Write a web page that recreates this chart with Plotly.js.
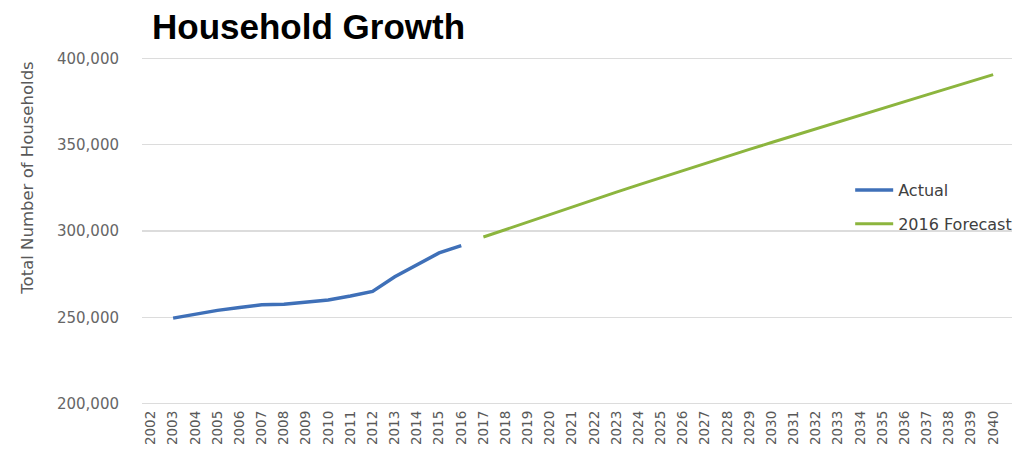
<!DOCTYPE html>
<html>
<head>
<meta charset="utf-8">
<script src="https://cdn.plot.ly/plotly-3.0.1.min.js"></script>
<style>
  html, body { margin: 0; padding: 0; background: #ffffff; }
  #chart { width: 1029px; height: 451px; }
</style>
</head>
<body>
<div id="chart"></div>
<script>
// Tick labels (all years on the category axis)
var yearLabels = [2002, 2003, 2004, 2005, 2006, 2007, 2008, 2009, 2010, 2011,
                  2012, 2013, 2014, 2015, 2016, 2017, 2018, 2019, 2020, 2021,
                  2022, 2023, 2024, 2025, 2026, 2027, 2028, 2029, 2030, 2031,
                  2032, 2033, 2034, 2035, 2036, 2037, 2038, 2039, 2040];

// Actual households
var actualYears = [2003, 2004, 2005, 2006, 2007, 2008, 2009, 2010, 2011, 2012, 2013, 2014, 2015, 2016];
var actualValues = [249500, 251800, 254000, 255600, 257300, 257500, 258500, 260000, 262300, 265000, 273500, 280500, 287300, 291500];

// 2016 Forecast
var forecastYears = [2017, 2018, 2019, 2020, 2021, 2022, 2023, 2024, 2025, 2026, 2027, 2028,
                     2029, 2030, 2031, 2032, 2033, 2034, 2035, 2036, 2037, 2038, 2039, 2040];
var forecastValues = [296500, 300900, 305300, 309700, 314000, 318300, 322500, 326700, 330900, 335000, 339100, 343200,
                      347300, 351300, 355300, 359300, 363300, 367200, 371100, 375000, 378900, 382800, 386700, 390600];

var yTicks = [200000, 250000, 300000, 350000, 400000];
var yTickText = ['200,000', '250,000', '300,000', '350,000', '400,000'];

var seriesNames = ['Actual', '2016 Forecast'];
var titleText = 'Household Growth';
var yTitleText = 'Total Number of Households';

var traces = [
  {
    x: actualYears, y: actualValues, name: seriesNames[0], type: 'scatter', mode: 'lines',
    line: { color: '#3f70b8', width: 3.5 }, legendgroup: 'a'
  },
  {
    x: forecastYears, y: forecastValues, name: seriesNames[1], type: 'scatter', mode: 'lines',
    line: { color: '#8cb53e', width: 3 }, legendgroup: 'b'
  }
];

var layout = {
  width: 1029, height: 451,
  margin: { l: 142, r: 12, t: 55, b: 44 },
  paper_bgcolor: '#ffffff', plot_bgcolor: '#ffffff',
  font: { family: 'DejaVu Sans, sans-serif', color: '#595959' },
  title: {
    text: '<b>' + titleText + '</b>',
    font: { family: 'Liberation Sans, Arial, sans-serif', size: 35, color: '#000000' },
    xref: 'container', yref: 'container',
    x: 152 / 1029, xanchor: 'left',
    y: 1 - 27 / 451, yanchor: 'middle'
  },
  xaxis: {
    range: [2001.596, 2040.85],
    tickmode: 'array', tickvals: yearLabels, ticktext: yearLabels.map(String),
    tickangle: -90, tickfont: { size: 13.5, color: '#595959' },
    showgrid: false, zeroline: false, showline: false, ticks: '',
    fixedrange: true
  },
  yaxis: {
    range: [198000, 402000],
    tickmode: 'array', tickvals: yTicks, ticktext: yTickText,
    tickfont: { size: 15, color: '#666666' },
    showgrid: true, gridcolor: '#dcdcdc', gridwidth: 1.5,
    zeroline: false, showline: false, ticks: '',
    ticklabelstandoff: 22,
    fixedrange: true
  },
  showlegend: true,
  legend: {
    x: 0.814, xanchor: 'left', yanchor: 'top',
    yref: 'paper',
    font: { size: 16, color: '#404040' },
    bgcolor: 'rgba(0,0,0,0)',
    itemwidth: 38,
    traceorder: 'grouped', tracegroupgap: 10
  },
  annotations: [
    {
      text: yTitleText, xref: 'paper', yref: 'paper',
      x: (27 - 142) / 875,
      xanchor: 'center', yanchor: 'middle', textangle: -90, showarrow: false,
      font: { size: 16.5, color: '#595959' }
    }
  ]
};

// legend top near pixel y=173; y-title centred near pixel y=178
layout.legend.y = 1 - (173 - 55) / 352;
layout.annotations[0].y = 1 - (178 - 55) / 352;

Plotly.newPlot('chart', traces, layout, { displayModeBar: false, staticPlot: true });
</script>
</body>
</html>
